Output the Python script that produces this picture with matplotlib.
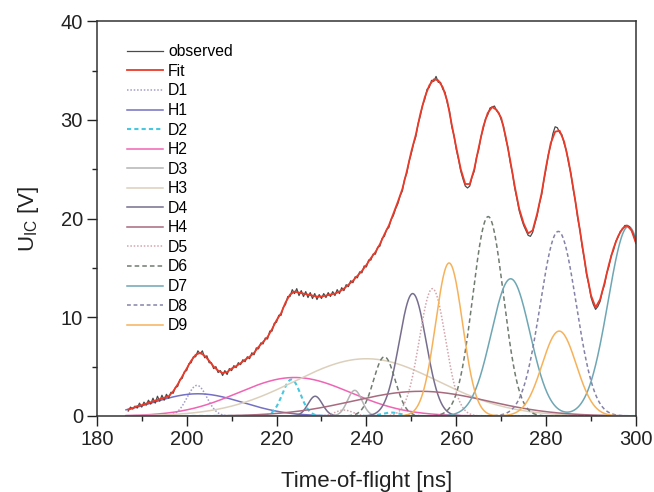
import numpy as np
import matplotlib.pyplot as plt

# Measured ion-collector signal (0.5 ns steps) and the fitted curve (1 ns steps)
t_obs = np.arange(187.0, 300.01, 0.5)
u_obs = [
    0.5, 0.9, 0.7, 1.0, 0.8, 1.3, 0.9, 1.4, 1.1, 1.6, 1.2, 1.8, 1.3, 2.0, 1.5, 2.1,
    1.6, 2.2, 1.8, 2.4, 2.3, 2.9, 3.0, 3.7, 3.8, 4.5, 4.6, 5.3, 5.4, 6.0, 6.0, 6.6,
    6.3, 6.6, 5.9, 6.1, 5.4, 5.4, 4.8, 5.0, 4.4, 4.6, 4.1, 4.6, 4.2, 4.8, 4.6, 5.1,
    4.9, 5.4, 5.2, 5.7, 5.5, 6.0, 5.8, 6.4, 6.2, 6.9, 6.8, 7.4, 7.3, 7.9, 7.8, 8.6,
    8.6, 9.4, 9.5, 10.2, 10.2, 11.0, 11.3, 12.1, 12.1, 12.8, 12.4, 12.9, 12.2, 12.7,
    12.1, 12.6, 12.0, 12.5, 11.9, 12.4, 11.8, 12.3, 11.9, 12.4, 12.0, 12.5, 12.1, 12.6,
    12.2, 12.8, 12.4, 13.0, 12.7, 13.3, 13.1, 13.7, 13.5, 14.1, 14.0, 14.6, 14.5, 15.2,
    15.1, 15.8, 15.8, 16.4, 16.4, 17.1, 17.2, 18.0, 18.2, 18.9, 19.1, 19.9, 20.3, 21.0,
    21.5, 22.3, 22.8, 24.0, 24.6, 25.8, 26.6, 27.6, 28.3, 29.6, 30.4, 31.5, 32.1, 33.1,
    33.3, 34.0, 33.9, 34.4, 33.8, 33.8, 33.1, 32.8, 31.7, 30.9, 29.3, 28.4, 27.0, 26.0,
    24.8, 24.0, 23.3, 23.1, 23.3, 24.2, 24.8, 26.2, 27.0, 28.3, 29.1, 30.1, 30.5, 31.2,
    31.3, 31.4, 30.9, 30.7, 30.0, 29.4, 28.1, 27.2, 25.7, 24.6, 23.1, 22.0, 20.8, 20.0,
    19.3, 18.8, 18.3, 18.2, 18.6, 19.5, 20.3, 21.5, 22.4, 23.9, 25.1, 26.5, 27.4, 28.6,
    29.3, 29.2, 28.7, 28.5, 27.6, 26.9, 25.6, 24.6, 23.0, 21.8, 20.1, 18.9, 17.2, 15.9,
    14.3, 13.3, 12.0, 11.3, 10.8, 11.1, 11.6, 12.6, 13.3, 14.5, 15.2, 16.3, 16.8, 17.7,
    18.1, 18.7, 18.9, 19.3, 19.3, 19.2, 18.8, 18.3, 17.5,
]

t_fit = np.arange(187.0, 300.01, 1.0)
u_fit = [
    0.65, 0.8, 1.0, 1.1, 1.25, 1.4, 1.55, 1.7, 1.85, 2.0,
    2.5, 3.2, 4.0, 4.8, 5.6, 6.2, 6.4, 6.1, 5.6, 5.0,
    4.6, 4.35, 4.45, 4.8, 5.05, 5.35, 5.7, 6.0, 6.4, 7.0,
    7.5, 8.0, 8.8, 9.7, 10.4, 11.5, 12.3, 12.6, 12.5, 12.4,
    12.3, 12.2, 12.1, 12.1, 12.2, 12.3, 12.4, 12.6, 12.9, 13.3,
    13.7, 14.2, 14.7, 15.3, 16.0, 16.6, 17.4, 18.4, 19.3, 20.5,
    21.7, 23.0, 24.8, 26.8, 28.5, 30.6, 32.3, 33.5, 34.1, 34.0,
    33.3, 31.9, 29.5, 27.2, 25.0, 23.5, 23.5, 25.0, 27.2, 29.3,
    30.7, 31.3, 31.0, 30.2, 28.3, 25.9, 23.3, 21.0, 19.5, 18.5,
    18.8, 20.5, 22.6, 25.3, 27.6, 28.8, 28.9, 27.8, 25.8, 23.2,
    20.3, 17.4, 14.5, 12.2, 11.0, 11.8, 13.5, 15.4, 17.0, 18.2,
    19.0, 19.3, 18.8, 17.5,
]

# Gaussian fit components: each row is one peak (component, centre ns, height V, sigma ns)
peak_comp = ['D1', 'H1', 'D2', 'D2', 'H2', 'D3', 'H3', 'D4', 'D4', 'H4',
             'D5', 'D5', 'D6', 'D6', 'D7', 'D7', 'D8', 'D9', 'D9']
peak_center = [202.3, 202.5, 223.3, 245.5, 224.0, 237.4, 240.0, 228.6, 250.3, 252.0,
               235.0, 254.7, 244.0, 267.1, 272.1, 298.3, 282.7, 258.4, 282.9]
peak_height = [3.1, 2.25, 3.7, 0.35, 3.9, 2.6, 5.8, 2.0, 12.4, 2.5,
               0.6, 12.9, 6.0, 20.2, 13.9, 19.2, 18.7, 15.5, 8.6]
peak_sigma = [2.2, 10.0, 2.0, 2.0, 12.5, 1.6, 16.0, 1.6, 3.0, 15.0,
              2.0, 2.9, 2.4, 3.4, 4.3, 4.5, 4.0, 3.0, 3.8]

comp_names = ['D1', 'H1', 'D2', 'H2', 'D3', 'H3', 'D4', 'H4', 'D5', 'D6', 'D7', 'D8', 'D9']
comp_colors = ['#a09cc8', '#7470c4', '#48c8e0', '#f064b4', '#b4b4b4', '#dcd0bc',
               '#776e8e', '#a86a7e', '#d4a4ac', '#707c70', '#6ea6b4', '#8482a8', '#f6b25a']
comp_styles = [(0, (1, 1.2)), '-', (0, (2, 1.5)), '-', '-', '-',
               '-', '-', (0, (1, 1.2)), (0, (3, 2)), '-', (0, (2.5, 1.8)), '-']

plt.rcParams['font.family'] = ['Liberation Sans', 'DejaVu Sans']

fig = plt.figure(figsize=(6.54, 4.92), dpi=100)
ax = fig.add_axes([0.148, 0.1545, 0.8245, 0.8025])

tt = np.linspace(186.5, 300, 1200)
comp_lines = []
for name, col, ls in zip(comp_names, comp_colors, comp_styles):
    y = np.zeros_like(tt)
    for c, x0, h, s in zip(peak_comp, peak_center, peak_height, peak_sigma):
        if c == name:
            y += h * np.exp(-(tt - x0) ** 2 / (2 * s ** 2))
    lw = 1.5 if name == 'D2' else 1.1
    ln, = ax.plot(tt, y, color=col, ls=ls, lw=lw, label=name)
    comp_lines.append(ln)

obs_line, = ax.plot(t_obs, u_obs, color='#4a4a4a', lw=0.9, label='observed')
fit_line, = ax.plot(t_fit, u_fit, color='#ec3a28', lw=1.3, label='Fit')

ax.set_xlim(180, 300)
ax.set_ylim(0, 40)
ax.set_xticks(np.arange(180, 301, 20))
ax.set_xticks(np.arange(190, 300, 20), minor=True)
ax.set_yticks(np.arange(0, 41, 10))
ax.set_yticks(np.arange(5, 40, 10), minor=True)
ax.tick_params(which='major', direction='out', length=7, width=1, labelsize=14.5,
               pad=3, colors='#222222')
ax.tick_params(which='minor', direction='out', length=3.5, width=1, colors='#222222')
for sp in ax.spines.values():
    sp.set_linewidth(1.1)
    sp.set_color('#333333')

ax.set_xlabel('Time-of-flight [ns]', fontsize=16, labelpad=16, color='#222222')
ax.set_ylabel(r'U$_\mathregular{IC}$ [V]', fontsize=16, labelpad=14, color='#222222')

handles = [obs_line, fit_line] + comp_lines
ax.legend(handles=handles, loc='upper left', bbox_to_anchor=(0.039, 0.965),
          frameon=False, fontsize=11.3, handlelength=2.3, handletextpad=0.3,
          labelspacing=0.29, borderaxespad=0.2)

fig.savefig('out.png', dpi=100)
